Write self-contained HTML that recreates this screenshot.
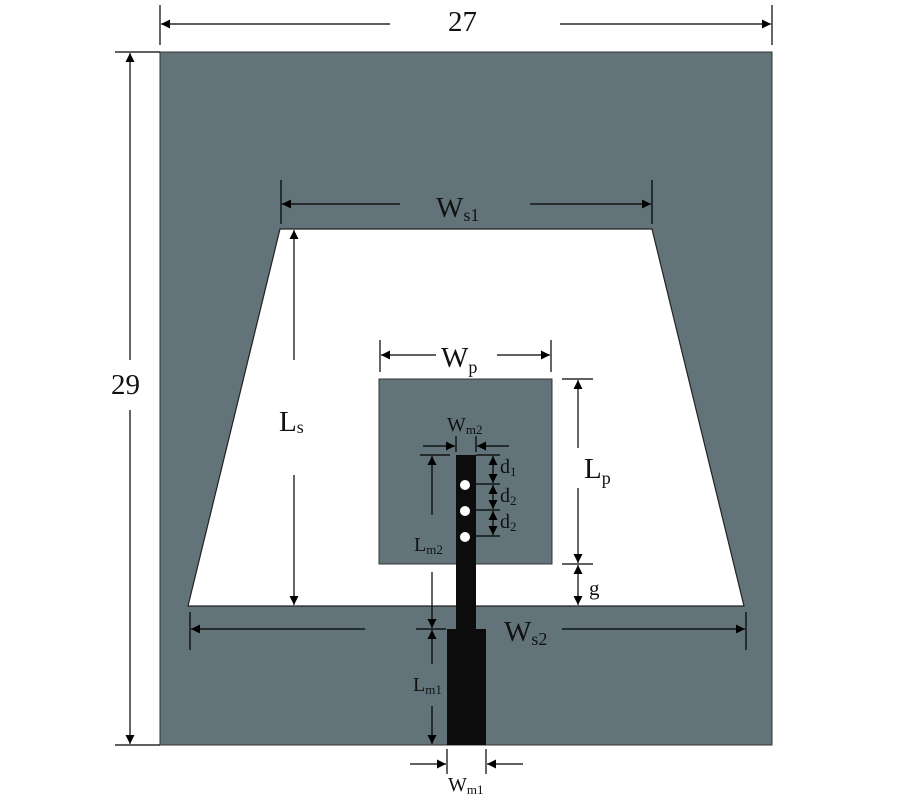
<!DOCTYPE html>
<html><head><style>body{margin:0;background:#fff}svg{display:block}text{font-family:"Liberation Serif",serif;fill:#111}</style></head>
<body>
<svg width="900" height="800" viewBox="0 0 900 800" xmlns="http://www.w3.org/2000/svg">
<defs>
<marker id="a" viewBox="0 0 10 10" refX="10" refY="5" markerWidth="15" markerHeight="9" markerUnits="userSpaceOnUse" orient="auto"><path d="M0,0L10,5L0,10z" fill="#000"/></marker>
</defs>
<rect x="160" y="52" width="612" height="693" fill="#62747a" stroke="#333" stroke-width="1"/>
<polygon points="280,229 652,229 744,606 188,606" fill="#fff" stroke="#222" stroke-width="1.2"/>
<rect x="379" y="379" width="173" height="185" fill="#62747a" stroke="#333" stroke-width="1"/>
<rect x="456" y="455" width="20" height="175" fill="#0c0c0c"/>
<rect x="447" y="629" width="39" height="116" fill="#0c0c0c"/>
<circle cx="465" cy="485" r="5" fill="#fff"/><circle cx="465" cy="511" r="5" fill="#fff"/><circle cx="465" cy="537" r="5" fill="#fff"/>
<g stroke="#000" stroke-width="1.2" fill="none">
<line x1="160" y1="5" x2="160" y2="45"/><line x1="772" y1="5" x2="772" y2="45"/>
<line x1="390" y1="24" x2="161" y2="24" marker-end="url(#a)"/><line x1="560" y1="24" x2="771" y2="24" marker-end="url(#a)"/>
<line x1="115" y1="52" x2="160" y2="52"/><line x1="115" y1="745" x2="160" y2="745"/>
<line x1="130" y1="360" x2="130" y2="53" marker-end="url(#a)"/><line x1="130" y1="410" x2="130" y2="744" marker-end="url(#a)"/>
<line x1="281" y1="180" x2="281" y2="224"/><line x1="652" y1="180" x2="652" y2="224"/>
<line x1="400" y1="204" x2="282" y2="204" marker-end="url(#a)"/><line x1="530" y1="204" x2="651" y2="204" marker-end="url(#a)"/>
<line x1="294" y1="360" x2="294" y2="230" marker-end="url(#a)"/><line x1="294" y1="475" x2="294" y2="605" marker-end="url(#a)"/>
<line x1="380" y1="340" x2="380" y2="372"/><line x1="551" y1="340" x2="551" y2="372"/>
<line x1="436" y1="355" x2="381" y2="355" marker-end="url(#a)"/><line x1="497" y1="355" x2="550" y2="355" marker-end="url(#a)"/>
<line x1="562" y1="379" x2="593" y2="379"/><line x1="562" y1="564" x2="593" y2="564"/>
<line x1="578" y1="448" x2="578" y2="380" marker-end="url(#a)"/><line x1="578" y1="488" x2="578" y2="563" marker-end="url(#a)"/>
<line x1="578" y1="586" x2="578" y2="565" marker-end="url(#a)"/><line x1="578" y1="586" x2="578" y2="605" marker-end="url(#a)"/>
<line x1="456" y1="436" x2="456" y2="452"/><line x1="476" y1="436" x2="476" y2="452"/>
<line x1="423" y1="446" x2="455" y2="446" marker-end="url(#a)"/><line x1="509" y1="446" x2="477" y2="446" marker-end="url(#a)"/>
<line x1="476" y1="455" x2="500" y2="455"/><line x1="476" y1="484" x2="500" y2="484"/><line x1="476" y1="510" x2="500" y2="510"/><line x1="476" y1="536" x2="500" y2="536"/>
<line x1="493" y1="470" x2="493" y2="456" marker-end="url(#a)"/><line x1="493" y1="470" x2="493" y2="483" marker-end="url(#a)"/>
<line x1="493" y1="497" x2="493" y2="485" marker-end="url(#a)"/><line x1="493" y1="497" x2="493" y2="509" marker-end="url(#a)"/>
<line x1="493" y1="523" x2="493" y2="511" marker-end="url(#a)"/><line x1="493" y1="523" x2="493" y2="535" marker-end="url(#a)"/>
<line x1="420" y1="455" x2="450" y2="455"/>
<line x1="432" y1="515" x2="432" y2="456" marker-end="url(#a)"/><line x1="432" y1="572" x2="432" y2="628" marker-end="url(#a)"/>
<line x1="190" y1="612" x2="190" y2="650"/><line x1="746" y1="612" x2="746" y2="650"/>
<line x1="365" y1="629" x2="191" y2="629" marker-end="url(#a)"/><line x1="562" y1="629" x2="745" y2="629" marker-end="url(#a)"/>
<line x1="416" y1="629" x2="446" y2="629"/>
<line x1="432" y1="664" x2="432" y2="630" marker-end="url(#a)"/><line x1="432" y1="706" x2="432" y2="744" marker-end="url(#a)"/>
<line x1="447" y1="749" x2="447" y2="774"/><line x1="486" y1="749" x2="486" y2="774"/>
<line x1="410" y1="764" x2="446" y2="764" marker-end="url(#a)"/><line x1="523" y1="764" x2="487" y2="764" marker-end="url(#a)"/>
</g>
<g font-size="29">
<text x="448" y="31">27</text>
<text x="111" y="394">29</text>
<text x="436" y="217">W<tspan font-size="18" dy="4">s1</tspan></text>
<text x="279" y="431">L<tspan font-size="18" dy="2">s</tspan></text>
<text x="441" y="367">W<tspan font-size="18" dy="6">p</tspan></text>
<text x="584" y="478">L<tspan font-size="18" dy="6">p</tspan></text>
<text x="504" y="641">W<tspan font-size="18" dy="4">s2</tspan></text>
</g>
<g font-size="20">
<text x="447" y="431">W<tspan font-size="13" dy="3">m2</tspan></text>
<text x="414" y="551">L<tspan font-size="13" dy="3">m2</tspan></text>
<text x="413" y="691">L<tspan font-size="13" dy="3">m1</tspan></text>
<text x="448" y="791">W<tspan font-size="13" dy="3">m1</tspan></text>
<text x="500" y="473">d<tspan font-size="13" dy="3">1</tspan></text>
<text x="500" y="502">d<tspan font-size="13" dy="3">2</tspan></text>
<text x="500" y="528">d<tspan font-size="13" dy="3">2</tspan></text>
<text x="589" y="595" font-size="21">g</text>
</g>
</svg>
</body></html>
